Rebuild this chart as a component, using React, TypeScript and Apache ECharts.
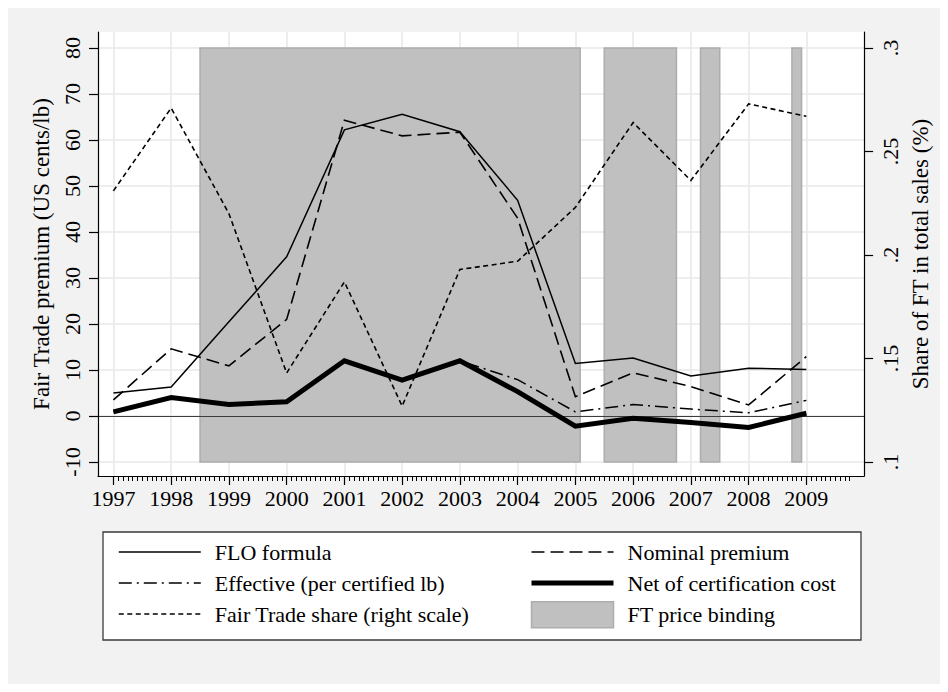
import React, { useEffect, useRef } from 'react';
import * as echarts from 'echarts';

// ---------- data ----------
const years = [1997, 1998, 1999, 2000, 2001, 2002, 2003, 2004, 2005, 2006, 2007, 2008, 2009];
const floFormula = [5.0, 6.3, 20.5, 34.6, 62.2, 65.6, 61.8, 46.9, 11.4, 12.6, 8.7, 10.4, 10.1];
const nominalPremium = [3.5, 14.6, 10.9, 21.0, 64.3, 60.9, 61.7, 43.0, 4.2, 9.4, 6.4, 2.4, 12.9];
const effectivePremium = [0.9, 4.0, 2.5, 3.1, 12.0, 7.8, 12.0, 7.9, 0.9, 2.5, 1.5, 0.7, 3.4];
const netPremium = [0.9, 4.0, 2.5, 3.1, 12.0, 7.8, 12.0, 5.3, -2.2, -0.5, -1.4, -2.5, 0.6];
const ftShare = [0.231, 0.271, 0.220, 0.143, 0.187, 0.127, 0.193, 0.197, 0.223, 0.264, 0.236, 0.273, 0.267];

// periods when the FT price was binding (decimal years)
const bandStart = [1998.5, 2005.5, 2007.167, 2008.75];
const bandEnd = [2005.083, 2006.75, 2007.5, 2008.917];
const bandLow = -10;
const bandHigh = 80;

const leftTicks = [-10, 0, 10, 20, 30, 40, 50, 60, 70, 80];
const rightTicks = [0.1, 0.15, 0.2, 0.25, 0.3];
const monthTicks: number[] = [];
for (let i = 0; i <= 153; i++) monthTicks.push(1997 + i / 12);

const X_MIN = 1996.733;
const X_MAX = 2010;
const Y_MIN = -13.043;
const Y_MAX = 83.478;
const R_MIN = 0.09324;
const R_MAX = 0.30773;

const FONT = 'Liberation Serif';
const TICK_FS = 22;
const TITLE_FS = 23;
const LEGEND_FS = 22;

const toPairs = (vals: number[]) => years.map((y, i) => [y, vals[i]]);

const lineSeries = (name: string, vals: number[], yAxisIndex: number, width: number, type: any) => ({
  type: 'line',
  name,
  data: toPairs(vals),
  xAxisIndex: 0,
  yAxisIndex,
  symbol: 'none',
  silent: true,
  z: 2,
  lineStyle: { color: '#000', width, type, cap: 'butt', join: 'miter' },
  itemStyle: { color: '#000' },
});

const axisLineStyle = { color: '#000', width: 1.2 };

const legendCommon = {
  orient: 'vertical',
  top: 531,
  padding: 0,
  itemWidth: 82,
  itemHeight: 26,
  itemGap: 5,
  selectedMode: false,
  itemStyle: { opacity: 0 },
  textStyle: {
    fontFamily: FONT,
    fontSize: LEGEND_FS,
    color: '#000',
    lineHeight: 26,
    padding: [0, 0, 0, 9],
  },
};

const option: any = {
  animation: false,
  backgroundColor: '#f2f2f2',
  grid: {
    left: 90,
    top: 24,
    width: 769,
    height: 444,
    show: true,
    backgroundColor: '#ffffff',
    borderWidth: 0,
  },
  xAxis: [
    {
      type: 'value',
      min: X_MIN,
      max: X_MAX,
      position: 'bottom',
      z: 3,
      axisLine: { show: true, onZero: false, lineStyle: axisLineStyle },
      axisTick: { show: true, customValues: years, length: 9, lineStyle: axisLineStyle },
      axisLabel: {
        show: true,
        customValues: years,
        margin: 11,
        fontFamily: FONT,
        fontSize: TICK_FS,
        color: '#000',
        formatter: (v: number) => String(Math.round(v)),
      },
      splitLine: { show: false },
    },
    {
      type: 'value',
      min: X_MIN,
      max: X_MAX,
      position: 'bottom',
      z: 3,
      axisLine: { show: false, onZero: false },
      axisTick: { show: true, customValues: monthTicks, length: 5, lineStyle: { color: '#000', width: 1 } },
      axisLabel: { show: false },
      splitLine: { show: false },
    },
  ],
  yAxis: [
    {
      type: 'value',
      position: 'left',
      min: Y_MIN,
      max: Y_MAX,
      z: 3,
      axisLine: { show: true, onZero: false, lineStyle: axisLineStyle },
      axisTick: { show: true, customValues: leftTicks, length: 9, lineStyle: axisLineStyle },
      axisLabel: {
        show: true,
        customValues: leftTicks,
        rotate: 90,
        margin: 15,
        fontFamily: FONT,
        fontSize: TICK_FS,
        color: '#000',
        formatter: (v: number) => String(Math.round(v)),
      },
      splitLine: { show: false },
      name: 'Fair Trade premium (US cents/lb)',
      nameLocation: 'middle',
      nameRotate: 90,
      nameGap: 36,
      nameTextStyle: { fontFamily: FONT, fontSize: TITLE_FS, color: '#000' },
    },
    {
      type: 'value',
      position: 'right',
      min: R_MIN,
      max: R_MAX,
      z: 3,
      axisLine: { show: true, onZero: false, lineStyle: axisLineStyle },
      axisTick: { show: true, customValues: rightTicks, length: 9, lineStyle: axisLineStyle },
      axisLabel: {
        show: true,
        customValues: rightTicks,
        rotate: 90,
        margin: 15,
        fontFamily: FONT,
        fontSize: TICK_FS,
        color: '#000',
        formatter: (v: number) => v.toFixed(2).replace(/0+$/, '').replace(/^0/, ''),
      },
      splitLine: { show: false },
      name: 'Share of FT in total sales (%)',
      nameLocation: 'middle',
      nameRotate: 90,
      nameGap: 35,
      nameTextStyle: { fontFamily: FONT, fontSize: TITLE_FS, color: '#000' },
    },
  ],
  legend: [
    {
      ...legendCommon,
      left: 110,
      data: [
        { name: 'FLO formula', lineStyle: { width: 1.5 } },
        { name: 'Effective (per certified lb)', lineStyle: { width: 1.5 } },
        { name: 'Fair Trade share (right scale)', lineStyle: { width: 1.6 } },
      ],
    },
    {
      ...legendCommon,
      left: 521,
      data: [
        { name: 'Nominal premium', lineStyle: { width: 1.6 } },
        { name: 'Net of certification cost', lineStyle: { width: 5 } },
        {
          name: 'FT price binding',
          icon: 'rect',
          itemStyle: { opacity: 1, color: '#c0c0c0', borderColor: '#adadad', borderWidth: 1.5 },
        },
      ],
    },
  ],
  graphic: [
    {
      type: 'rect',
      x: 95,
      y: 524,
      z: 0,
      silent: true,
      shape: { x: 0, y: 0, width: 758, height: 108 },
      style: { fill: '#ffffff', stroke: '#3a3a3a', lineWidth: 1.3 },
    },
  ],
  series: [
    {
      type: 'line',
      name: 'gridlines',
      data: [],
      xAxisIndex: 0,
      yAxisIndex: 0,
      silent: true,
      markLine: {
        silent: true,
        z: 0.5,
        symbol: ['none', 'none'],
        label: { show: false },
        emphasis: { disabled: true },
        lineStyle: { color: '#e9e9e9', width: 1.6, type: 'solid' },
        data: [...leftTicks.map((v) => ({ yAxis: v })), ...years.map((v) => ({ xAxis: v }))],
      },
    },
    {
      type: 'line',
      name: 'FT price binding',
      data: [],
      xAxisIndex: 0,
      yAxisIndex: 0,
      silent: true,
      itemStyle: { color: '#c0c0c0' },
      markArea: {
        silent: true,
        z: 1,
        emphasis: { disabled: true },
        itemStyle: { color: '#c0c0c0', borderColor: '#adadad', borderWidth: 1.5 },
        data: bandStart.map((s, i) => [
          { xAxis: s, yAxis: bandLow },
          { xAxis: bandEnd[i], yAxis: bandHigh },
        ]),
      },
    },
    {
      type: 'line',
      name: 'zero',
      data: [],
      xAxisIndex: 0,
      yAxisIndex: 0,
      silent: true,
      markLine: {
        silent: true,
        z: 1.5,
        symbol: ['none', 'none'],
        label: { show: false },
        emphasis: { disabled: true },
        lineStyle: { color: '#3c3c3c', width: 1, type: 'solid' },
        data: [{ yAxis: 0 }],
      },
    },
    lineSeries('FLO formula', floFormula, 0, 1.5, 'solid'),
    lineSeries('Nominal premium', nominalPremium, 0, 1.6, [13, 6]),
    lineSeries('Effective (per certified lb)', effectivePremium, 0, 1.5, [13, 5, 2, 5]),
    lineSeries('Net of certification cost', netPremium, 0, 5, 'solid'),
    lineSeries('Fair Trade share (right scale)', ftShare, 1, 1.6, [5, 3.5]),
  ],
};

export default function App() {
  const ref = useRef<HTMLDivElement>(null);
  useEffect(() => {
    if (!ref.current) return;
    const chart = echarts.init(ref.current, null, { renderer: 'svg' });
    chart.setOption(option);
    return () => chart.dispose();
  }, []);
  return <div ref={ref} style={{ width: 932, height: 676, background: '#f2f2f2' }} />;
}
